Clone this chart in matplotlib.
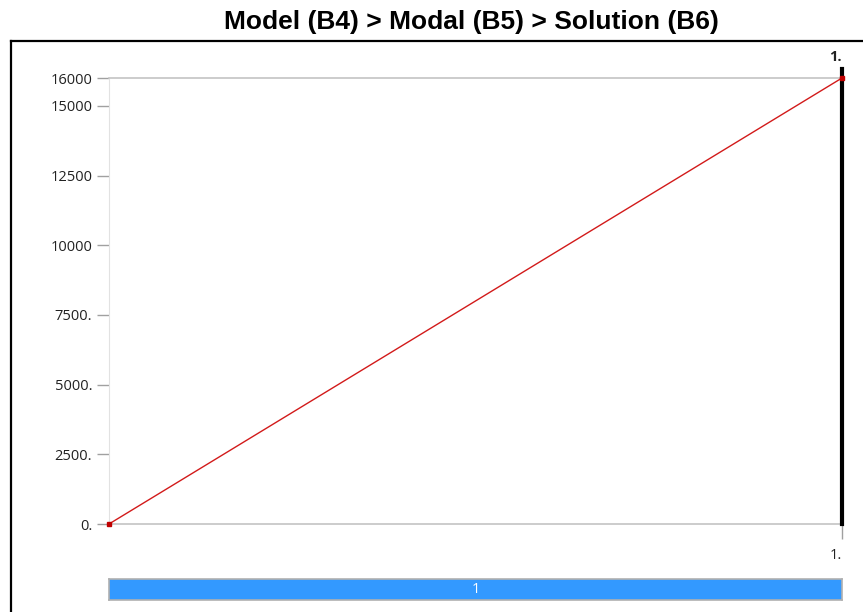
import numpy as np
import matplotlib.pyplot as plt
from matplotlib.lines import Line2D

# --- data ---
x_vals = [0.0, 1.0]
y_vals = [0.0, 16000.0]
y_ticks = [0, 2500, 5000, 7500, 10000, 12500, 15000, 16000]
y_labels = ["0.", "2500.", "5000.", "7500.", "10000", "12500", "15000", "16000"]
x_ticks = [1.0]
x_labels = ["1."]
set_labels = ["1"]
title = "Model (B4) > Modal (B5) > Solution (B6)"

W, H = 863, 612
fig = plt.figure(figsize=(W / 100, H / 100), dpi=100)
plt.rcParams['font.family'] = ['Open Sans', 'DejaVu Sans']

# outer frame (top + left)
fig.add_artist(Line2D([11 / W, 1.0], [1 - 41 / H, 1 - 41 / H], color="black", lw=1.6))
fig.add_artist(Line2D([11 / W, 11 / W], [1 - 41 / H, 0.0], color="black", lw=1.6))

fig.text(471 / W, 1 - 22 / H, title, ha="center", va="center",
         fontsize=19, fontweight="bold", family="Liberation Sans")

ax = fig.add_axes([109 / W, 1 - 524 / H, 733 / W, 446 / H])
ax.plot(x_vals, y_vals, color="#d21a1a", lw=1.0, marker="s", ms=3.5,
        mfc="#c00000", mec="#c00000", clip_on=False, zorder=5)
ax.axvline(x_vals[-1], ymin=0, ymax=1.02, color="black", lw=3, clip_on=False, zorder=4)

ax.set_xlim(x_vals[0], x_vals[-1])
ax.set_ylim(0, 16000)
ax.set_yticks(y_ticks)
ax.set_yticklabels(y_labels)
ax.set_xticks(x_ticks)
ax.set_xticklabels(x_labels)
ax.tick_params(axis="both", colors="#a0a0a0", length=9, width=1, labelsize=10.5, pad=3)
for lab in ax.get_yticklabels() + ax.get_xticklabels():
    lab.set_color("#222222")
ax.tick_params(axis="x", length=11, pad=6)
for lab in ax.get_xticklabels():
    lab.set_horizontalalignment("right")

for side in ["top", "bottom"]:
    ax.spines[side].set_color("#c4c4c4")
    ax.spines[side].set_linewidth(1.2)
ax.spines["left"].set_color("#e2e2e2")
ax.spines["right"].set_visible(False)

ax.text(x_vals[-1], 16000 + 750, x_labels[0], ha="right", va="center",
        fontsize=10.5, fontweight="bold", color="#222222")

# set bar below the chart
bar = fig.add_axes([109 / W, 1 - 600 / H, 733 / W, 21 / H])
bar.set_facecolor("#3399ff")
bar.set_xticks([])
bar.set_yticks([])
for s in bar.spines.values():
    s.set_color("#b0b0b0")
    s.set_linewidth(1.2)
bar.text(0.5, 0.5, set_labels[0], ha="center", va="center", color="white",
         fontsize=10.5, transform=bar.transAxes)

fig.savefig("out.png", dpi=100)
